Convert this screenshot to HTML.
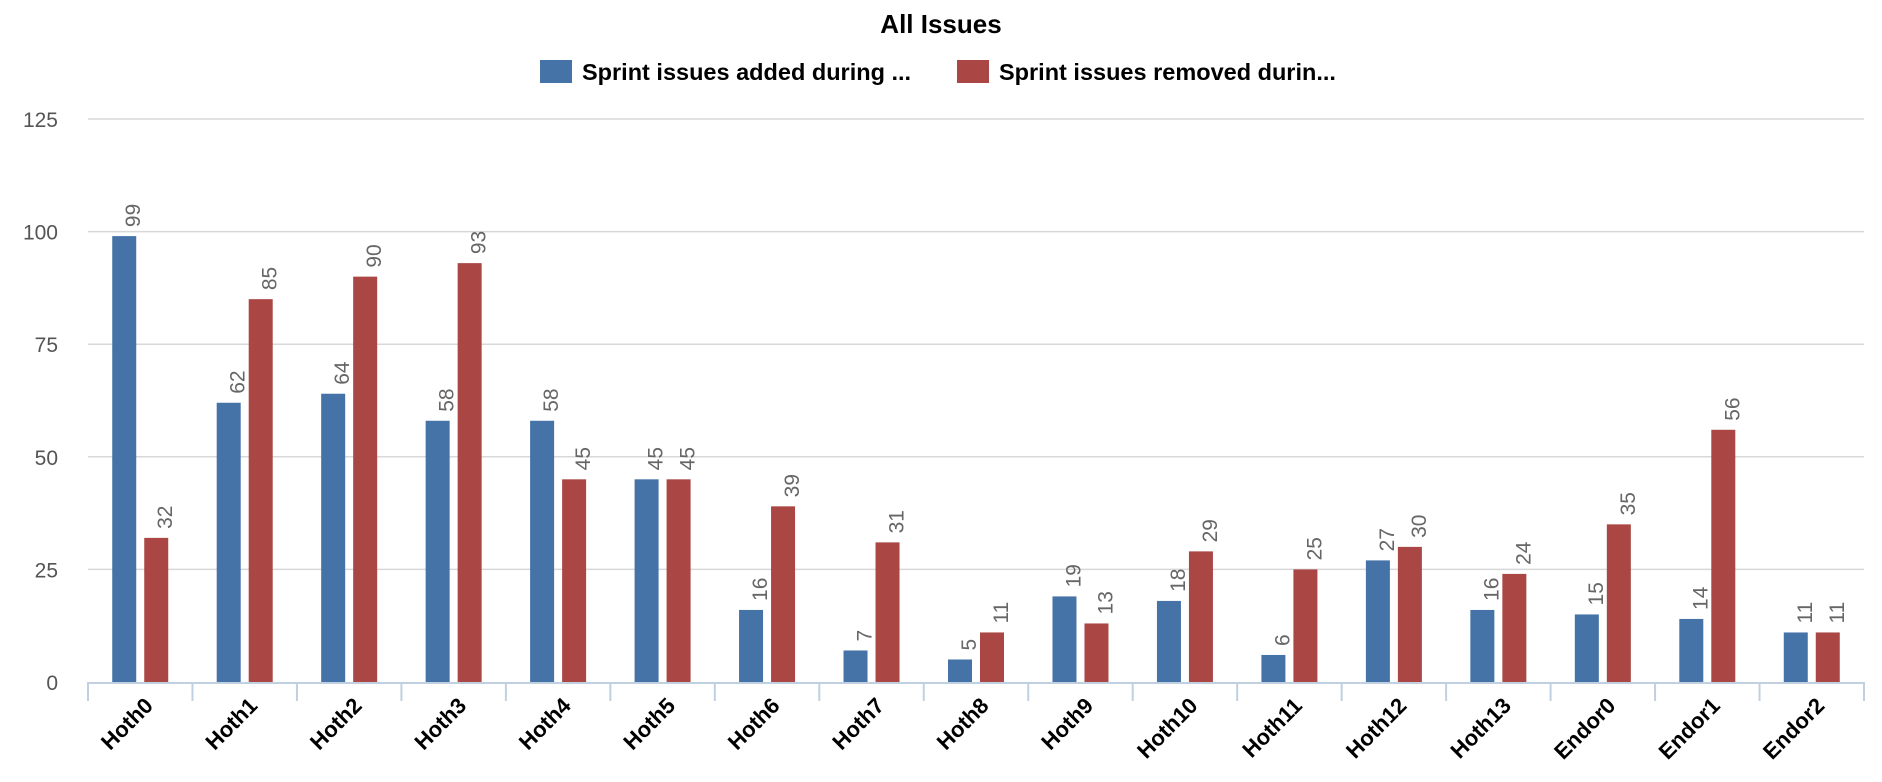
<!DOCTYPE html>
<html><head><meta charset="utf-8">
<style>
html,body{margin:0;padding:0;background:#fff;}
svg{display:block;font-family:"Liberation Sans",Arial,sans-serif;}
</style></head>
<body>
<svg id="chart" width="1882" height="782" viewBox="0 0 1882 782">
<text x="941" y="33" text-anchor="middle" font-size="26" font-weight="bold" fill="#000">All Issues</text>
<g>
<g>
<rect x="540" y="60" width="32" height="23" fill="#4572a7"/>
<text x="582" y="80" font-size="23.5" font-weight="bold" fill="#000">Sprint issues added during ...</text>
</g>
<g>
<rect x="957" y="60" width="32" height="23" fill="#aa4643"/>
<text x="999" y="80" font-size="23.5" font-weight="bold" fill="#000">Sprint issues removed durin...</text>
</g>
</g>
<g id="grid"></g>
<g id="bars"></g>
<g id="axes"></g>
</svg>
<script>
const categories = ["Hoth0","Hoth1","Hoth2","Hoth3","Hoth4","Hoth5","Hoth6","Hoth7","Hoth8","Hoth9","Hoth10","Hoth11","Hoth12","Hoth13","Endor0","Endor1","Endor2"];
const addedValues = [99,62,64,58,58,45,16,7,5,19,18,6,27,16,15,14,11];
const removedValues = [32,85,90,93,45,45,39,31,11,13,29,25,30,24,35,56,11];
const yTicks = [0,25,50,75,100,125];

const NS="http://www.w3.org/2000/svg";
const L=88,R=1864,T=119,B=682,YMAX=125;
const bw=(R-L)/categories.length;
function y(v){return B-(v/YMAX)*(B-T);}
function xc(i){return L+bw*(i+0.5);}
function mk(tag,attrs,parent,txt){const e=document.createElementNS(NS,tag);for(const k in attrs)e.setAttribute(k,attrs[k]);if(txt!==undefined)e.textContent=txt;parent.appendChild(e);return e;}
const grid=document.getElementById('grid'),bars=document.getElementById('bars'),axes=document.getElementById('axes');
yTicks.forEach(t=>{
  if(t>0){const g=mk('line',{x1:L,x2:R,y1:y(t),y2:y(t),stroke:'#d8d8d8','stroke-width':1.5},grid);
  
  }
  const lb=mk('text',{x:58,y:y(t)+8,'text-anchor':'end','font-size':21,fill:'#555'},axes,t);
  
  
});
const ax=mk('line',{x1:L,x2:R,y1:B+1,y2:B+1,stroke:'#c0d0e0','stroke-width':2},axes);


for(let i=0;i<=categories.length;i++){
  const tk=mk('line',{x1:L+bw*i,x2:L+bw*i,y1:B,y2:B+19,stroke:'#c0d0e0','stroke-width':2},axes);
  
  
}
function bar(i,v,off,color,series){
  const x0=xc(i)+off;
  const r=mk('rect',{x:x0,y:y(v),width:24,height:B-y(v),fill:color},bars);
  
  
  const tx=x0+28,ty=y(v)-9;
  const lb=mk('text',{x:tx,y:ty,transform:`rotate(-90 ${tx} ${ty})`,'font-size':21,fill:'#666'},bars,v);
  
  
}
categories.forEach((c,i)=>{
  bar(i,addedValues[i],-28,'#4572a7','added');
  bar(i,removedValues[i],4,'#aa4643','removed');
  const tx=xc(i)+14,ty=B+25;
  const lb=mk('text',{x:tx,y:ty,transform:`rotate(-45 ${tx} ${ty})`,'text-anchor':'end','font-size':22,'font-weight':'bold',fill:'#000'},axes,c);
  
  
});
</script>
</body></html>
